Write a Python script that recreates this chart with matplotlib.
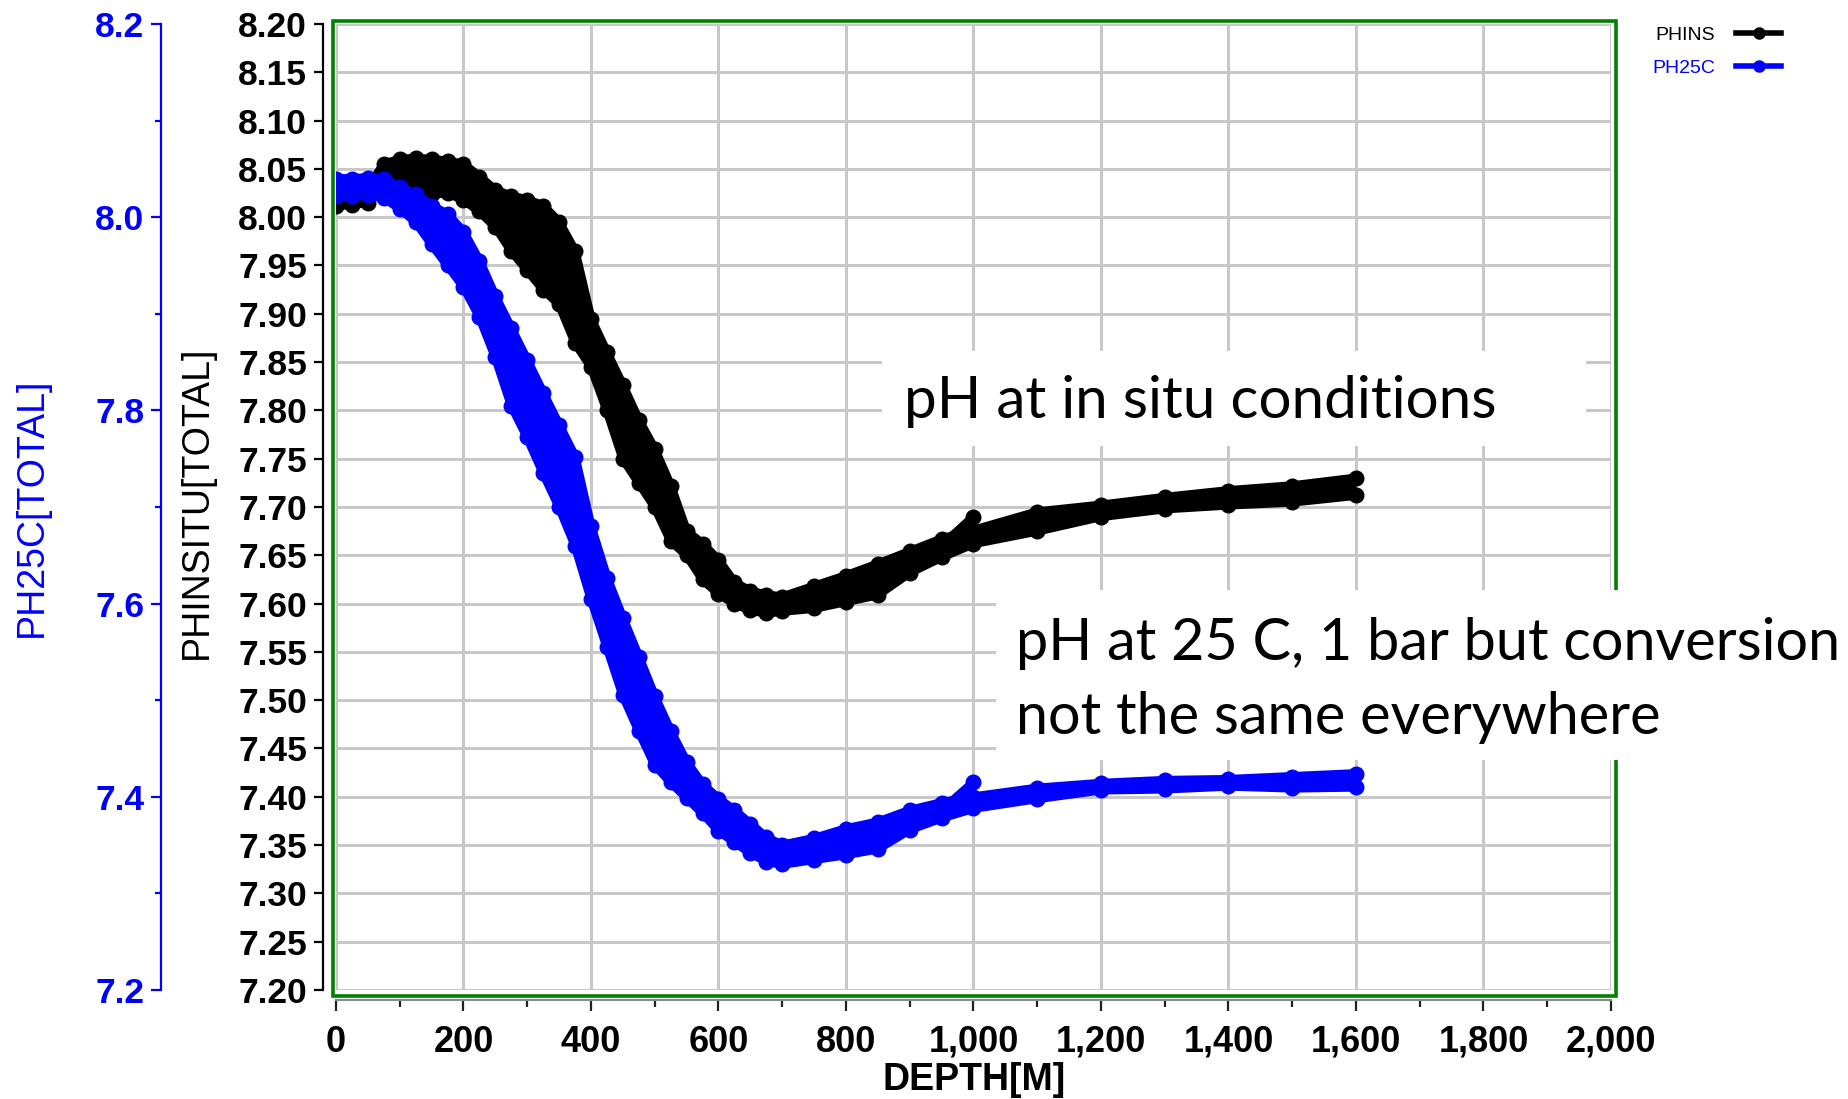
import matplotlib
matplotlib.use('Agg')
import matplotlib.pyplot as plt
from matplotlib.patches import Rectangle
from matplotlib.lines import Line2D
from matplotlib.ticker import MultipleLocator, FuncFormatter

# depth levels (m) shared by the full casts
depth = [0, 25, 50, 75, 100, 125, 150, 175, 200, 225, 250, 275, 300, 325, 350,
         375, 400, 425, 450, 475, 500, 525, 550, 575, 600, 625, 650, 675, 700,
         750, 800, 850, 900, 950, 1000, 1100, 1200, 1300, 1400, 1500, 1600]
# the short cast stops at 1000 m
depth_short = depth[:35]

# in situ pH, upper and lower edge casts + short cast
phins_cast1 = [8.025, 8.026, 8.030, 8.055, 8.060, 8.061, 8.060, 8.058, 8.055, 8.042,
               8.028, 8.022, 8.018, 8.012, 7.995, 7.965, 7.895, 7.860, 7.826, 7.790,
               7.760, 7.722, 7.675, 7.662, 7.645, 7.622, 7.613, 7.609, 7.607, 7.618,
               7.629, 7.641, 7.654, 7.667, 7.676, 7.695, 7.702, 7.710, 7.717, 7.722,
               7.730]
phins_cast2 = [8.012, 8.013, 8.015, 8.040, 8.043, 8.030, 8.024, 8.025, 8.018, 8.006,
               7.990, 7.965, 7.945, 7.925, 7.910, 7.870, 7.845, 7.800, 7.750, 7.725,
               7.700, 7.665, 7.650, 7.625, 7.610, 7.600, 7.593, 7.590, 7.592, 7.595,
               7.602, 7.609, 7.632, 7.648, 7.662, 7.675, 7.690, 7.698, 7.702, 7.705,
               7.712]
phins_cast3 = [8.018, 8.020, 8.022, 8.050, 8.052, 8.048, 8.042, 8.040, 8.036, 8.024,
               8.010, 7.990, 7.980, 7.968, 7.950, 7.920, 7.870, 7.830, 7.790, 7.760,
               7.730, 7.695, 7.662, 7.645, 7.628, 7.611, 7.603, 7.600, 7.600, 7.606,
               7.615, 7.625, 7.643, 7.660, 7.690]

# pH at 25 C
ph25_cast1 = [8.040, 8.040, 8.041, 8.040, 8.031, 8.024, 8.012, 8.003, 7.985, 7.955,
              7.918, 7.885, 7.852, 7.818, 7.785, 7.752, 7.680, 7.627, 7.585, 7.545,
              7.504, 7.468, 7.436, 7.413, 7.398, 7.386, 7.372, 7.358, 7.350, 7.357,
              7.367, 7.374, 7.386, 7.394, 7.400, 7.409, 7.414, 7.417, 7.418, 7.421,
              7.424]
ph25_cast2 = [8.022, 8.022, 8.023, 8.020, 8.009, 7.995, 7.972, 7.950, 7.928, 7.897,
              7.855, 7.805, 7.772, 7.735, 7.700, 7.660, 7.605, 7.555, 7.505, 7.468,
              7.433, 7.415, 7.399, 7.383, 7.365, 7.353, 7.342, 7.333, 7.330, 7.335,
              7.340, 7.346, 7.366, 7.378, 7.388, 7.398, 7.407, 7.408, 7.411, 7.409,
              7.410]
ph25_cast3 = [8.031, 8.031, 8.032, 8.030, 8.020, 8.010, 7.992, 7.977, 7.957, 7.926,
              7.888, 7.845, 7.812, 7.778, 7.742, 7.705, 7.642, 7.590, 7.545, 7.505,
              7.470, 7.445, 7.420, 7.400, 7.383, 7.367, 7.355, 7.345, 7.340, 7.346,
              7.354, 7.360, 7.376, 7.386, 7.415]

series_names = ['PHINS', 'PH25C']
series_colors = ['black', '#0000ff']

plt.rcParams['font.family'] = ['Liberation Sans', 'DejaVu Sans']

W, H = 1849, 1099
fig = plt.figure(figsize=(W / 100, H / 100), dpi=100)
fig.patch.set_facecolor('white')

ax = fig.add_axes([336 / W, 1 - 990 / H, 1275 / W, 966 / H])
ax2 = ax.twinx()

for a in (ax, ax2):
    a.set_xlim(0, 2000)
    a.set_ylim(7.2, 8.2)

# grid
ax.xaxis.set_major_locator(MultipleLocator(200))
ax.xaxis.set_minor_locator(MultipleLocator(100))
ax.yaxis.set_major_locator(MultipleLocator(0.05))
ax.grid(True, which='major', color='#c8c8c8', lw=2.2, zorder=0)
ax.set_axisbelow(True)

# data
def draw_series(a, c1, c2, c3, color):
    a.fill_between(depth, c1, c2, color=color, lw=0, zorder=2)
    for d, v in ((depth, c1), (depth, c2), (depth_short, c3)):
        a.plot(d, v, color=color, lw=6.5, marker='o', ms=10.5, zorder=3,
               solid_joinstyle='round')

draw_series(ax, phins_cast1, phins_cast2, phins_cast3, series_colors[0])
draw_series(ax2, ph25_cast1, ph25_cast2, ph25_cast3, series_colors[1])

# green frame round the plot
ax.add_patch(Rectangle((-3 / 1275, -6 / 966), 1283 / 1275, 975 / 966,
                       transform=ax.transAxes, fill=False, ec='#008000',
                       lw=2.6, clip_on=False, zorder=4))

# black in-situ axis
for s in ('top', 'right'):
    ax.spines[s].set_visible(False)
ax.spines['left'].set_position(('outward', 9.4))
ax.spines['left'].set_linewidth(1.6)
ax.spines['bottom'].set_position(('outward', 7))
ax.spines['bottom'].set_color('#8a8a8a')
ax.spines['bottom'].set_linewidth(1.5)
ax.tick_params(axis='y', which='major', length=6.5, width=1.6, pad=5,
               labelsize=25.5)
ax.tick_params(axis='x', which='major', length=8, width=1.6, pad=10,
               labelsize=26, color='#222222')
ax.tick_params(axis='x', which='minor', length=5, width=1.6, color='#222222')
ax.yaxis.set_major_formatter(FuncFormatter(lambda v, p: f'{v:.2f}'))
ax.xaxis.set_major_formatter(FuncFormatter(lambda v, p: f'{int(round(v)):,}'))
for lab in ax.get_xticklabels() + ax.get_yticklabels():
    lab.set_fontweight('bold')

ax.set_ylabel('PHINSITU[TOTAL]', fontsize=27, color='black')
ax.yaxis.set_label_coords((197 - 336) / 1275, (990 - 502) / 966)
ax.yaxis.label.set_verticalalignment('center')
ax.set_xlabel('DEPTH[M]', fontsize=27, fontweight='bold')
ax.xaxis.set_label_coords(0.5004, (990 - 1062) / 966)

# blue 25C axis further out on the left
for s in ('top', 'right', 'bottom'):
    ax2.spines[s].set_visible(False)
ax2.spines['left'].set_visible(True)
ax2.spines['left'].set_position(('outward', 126))
ax2.spines['left'].set_color('#0000ff')
ax2.spines['left'].set_linewidth(1.6)
ax2.yaxis.set_ticks_position('left')
ax2.yaxis.set_label_position('left')
ax2.yaxis.set_major_locator(MultipleLocator(0.2))
ax2.yaxis.set_minor_locator(MultipleLocator(0.1))
ax2.yaxis.set_major_formatter(FuncFormatter(lambda v, p: f'{v:.1f}'))
ax2.tick_params(axis='y', which='major', length=7, width=1.6, pad=5,
                labelsize=25.5, colors='#0000ff')
ax2.tick_params(axis='y', which='minor', length=4, width=1.6, colors='#0000ff')
for lab in ax2.get_yticklabels():
    lab.set_fontweight('bold')
ax2.set_ylabel('PH25C[TOTAL]', fontsize=27, color='#0000ff')
ax2.yaxis.set_label_coords((32 - 336) / 1275, (990 - 507) / 966)
ax2.yaxis.label.set_verticalalignment('center')

# legend top right, text first then sample
handles = [Line2D([], [], color=c, lw=4, marker='o', ms=8) for c in series_colors]
leg = ax2.legend(handles, series_names, loc='upper right',
                 bbox_to_anchor=(1781 / W, 1 - 26 / H), bbox_transform=fig.transFigure,
                 frameon=False, markerfirst=False, fontsize=14, handlelength=2.3,
                 handletextpad=1.1, labelspacing=0.8, borderpad=0, borderaxespad=0,
                 numpoints=1)
for t, c in zip(leg.get_texts(), series_colors):
    t.set_color(c)

# white annotation boxes
fig.add_artist(Rectangle((882 / W, 1 - 446 / H), (1586 - 882) / W, 95 / H,
                         transform=fig.transFigure, fc='white', ec='none', zorder=5))
fig.text(904 / W, 1 - 401 / H, 'pH at in situ conditions', fontsize=42,
         family='Lato', va='center', zorder=6)

fig.add_artist(Rectangle((996 / W, 1 - 760 / H), (W - 996) / W, 170 / H,
                         transform=fig.transFigure, fc='white', ec='none', zorder=5))
fig.text(1016 / W, 1 - 644 / H, 'pH at 25 C, 1 bar but conversion', fontsize=41.5,
         family='Lato', va='center', zorder=6)
fig.text(1016 / W, 1 - 717 / H, 'not the same everywhere', fontsize=41.5,
         family='Lato', va='center', zorder=6)

fig.savefig('out.png', dpi=100, facecolor='white')
